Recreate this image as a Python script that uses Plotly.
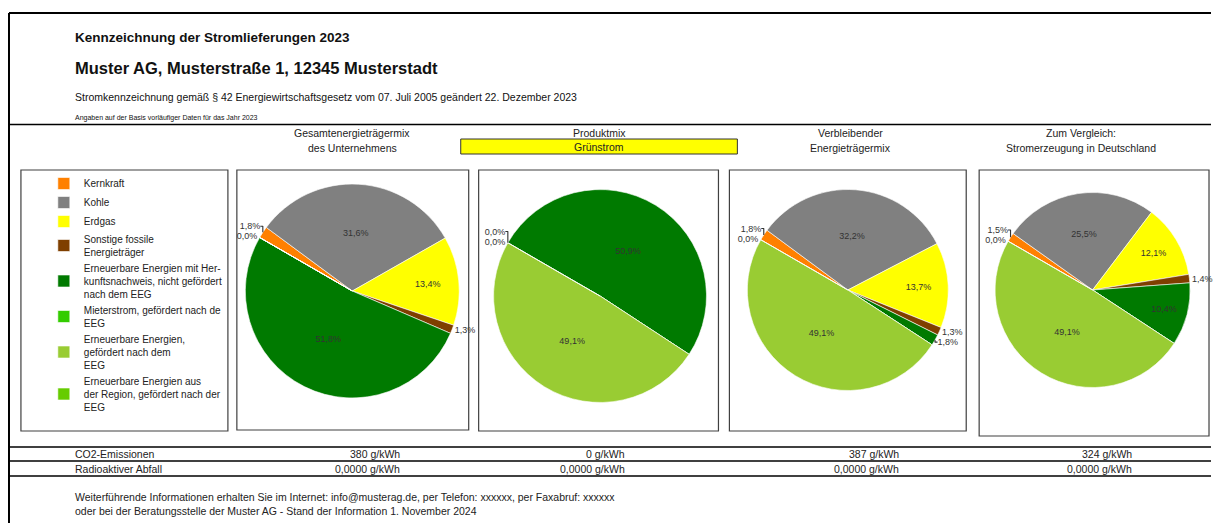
"""Stromkennzeichnung 2023 - Muster AG, nachgebaut mit Plotly."""
import plotly.graph_objects as go

# the page body has an 8px margin; the visible area ends 8px before the window edge
OFFSET = 8
W, H = 1225 - 2 * OFFSET, 523 - OFFSET

# Energieträger (Legendenreihenfolge = Tortenreihenfolge)
categories = [
    'Kernkraft',
    'Kohle',
    'Erdgas',
    'Sonstige fossile<br>Energieträger',
    'Erneuerbare Energien mit Her-<br>kunftsnachweis, nicht gefördert<br>nach dem EEG',
    'Mieterstrom, gefördert nach de<br>EEG',
    'Erneuerbare Energien,<br>gefördert nach dem<br>EEG',
    'Erneuerbare Energien aus<br>der Region, gefördert nach der<br>EEG',
]
colors = ['#FF8000', '#808080', '#FFFF00', '#7F3F00',
          '#007A00', '#33CC00', '#99CC33', '#66CC00']

# Anteile in % (None = kein Wert ausgewiesen)
mix_unternehmen = [1.8, 31.6, 13.4, 1.3, 51.8, None, 0.0, None]
mix_produkt = [0.0, None, None, None, 50.9, None, 49.1, 0.0]
mix_verbleibend = [1.8, 32.2, 13.7, 1.3, 1.8, None, 49.1, 0.0]
mix_deutschland = [1.5, 25.5, 12.1, 1.4, 10.4, None, 49.1, 0.0]

column_titles = [
    'Gesamtenergieträgermix<br>des Unternehmens',
    'Produktmix',
    'Verbleibender<br>Energieträgermix',
    'Zum Vergleich:<br>Stromerzeugung in Deutschland',
]
product_name = 'Grünstrom'

co2_values = [380, 0, 387, 324]          # g/kWh
waste_values = [0.0, 0.0, 0.0, 0.0]      # g/kWh

FONT = 'Arial, Liberation Sans, sans-serif'


def px_x(x):
    return (x - OFFSET) / W


def px_y(y):
    return 1 - (y - OFFSET) / H


fig = go.Figure()

# pie geometry in window pixels: (center x, center y, diameter), frame box
pies = [
    (mix_unternehmen, (354, 291, 215), (238, 170, 471, 430)),
    (mix_produkt, (603, 296, 214), (481, 170, 722, 431)),
    (mix_verbleibend, (852, 290, 202), (733, 170, 971, 431)),
    (mix_deutschland, (1098, 290, 196), (984, 170, 1215, 436)),
]
small_limit = 5.0

for i, (mix, (cx, cy, d), box) in enumerate(pies):
    values = [v if v is not None else 0 for v in mix]
    templates = ['' if v is None else '%{value:.1f}%' for v in mix]
    positions = ['inside' if (v or 0) >= small_limit else 'outside' for v in mix]
    fig.add_trace(go.Pie(
        labels=categories,
        values=values,
        sort=False,
        direction='clockwise',
        rotation=-60,
        marker=dict(colors=colors, line=dict(color='white', width=0.6)),
        texttemplate=templates,
        textposition=positions,
        insidetextorientation='horizontal',
        textfont=dict(family=FONT, size=9, color='#333333'),
        hovertemplate='%{label}: %{value:.1f}%<extra></extra>',
        showlegend=(i == 0),
        domain=dict(x=[px_x(cx - d / 2), px_x(cx + d / 2)],
                    y=[px_y(cy + d / 2), px_y(cy - d / 2)]),
    ))
    x0, y0, x1, y1 = box
    fig.add_shape(type='rect', xref='paper', yref='paper',
                  x0=px_x(x0), x1=px_x(x1), y0=px_y(y1), y1=px_y(y0),
                  line=dict(color='#404040', width=1.2))

# legend frame
fig.add_shape(type='rect', xref='paper', yref='paper',
              x0=px_x(21), x1=px_x(229), y0=px_y(431), y1=px_y(170),
              line=dict(color='#404040', width=1.2))

# outer form lines
line_style = dict(color='black', width=2)
fig.add_shape(type='line', xref='paper', yref='paper',
              x0=px_x(9), x1=1, y0=px_y(13), y1=px_y(13), line=line_style)
fig.add_shape(type='line', xref='paper', yref='paper',
              x0=px_x(9), x1=px_x(9), y0=px_y(13), y1=0, line=line_style)
for y in [124.5, 447, 461, 476]:
    fig.add_shape(type='line', xref='paper', yref='paper',
                  x0=px_x(9), x1=1, y0=px_y(y), y1=px_y(y),
                  line=dict(color='black', width=1.3))

# product name box
fig.add_shape(type='rect', xref='paper', yref='paper',
              x0=px_x(463), x1=px_x(741), y0=px_y(154), y1=px_y(139),
              fillcolor='#FFFF00', line=dict(color='#333333', width=1))


def text(x, y, s, size, bold=False, anchor='left', color='#111111'):
    fig.add_annotation(
        x=px_x(x), y=px_y(y), xref='paper', yref='paper',
        text=f'<b>{s}</b>' if bold else s, showarrow=False,
        xanchor=anchor, yanchor='middle',
        font=dict(family=FONT, size=size, color=color),
    )


# header
text(73, 37, 'Kennzeichnung der Stromlieferungen 2023', 13.5, bold=True)
text(73, 68, 'Muster AG, Musterstraße 1, 12345 Musterstadt', 16.5, bold=True)
text(73, 97, 'Stromkennzeichnung gemäß § 42 Energiewirtschaftsgesetz vom 07. Juli 2005 '
     'geändert 22. Dezember 2023', 10.5)
text(73, 118, 'Angaben auf der Basis vorläufiger Daten für das Jahr 2023', 7)

# column titles
col_centers = [354, 602, 855, 1086]
for c, title in zip(col_centers, column_titles):
    lines = title.split('<br>')
    text(c, 133, lines[0], 10.5, anchor='center', color='#222222')
    if len(lines) > 1:
        text(c, 148, lines[1], 10.5, anchor='center', color='#222222')
text(602, 147, product_name, 10.5, anchor='center', color='#222222')

# emission table
value_right = [404, 630, 905, 1140]
text(73, 454, 'CO2-Emissionen', 10.5, color='#222222')
text(73, 468.5, 'Radioaktiver Abfall', 10.5, color='#222222')
for xr, co2, waste in zip(value_right, co2_values, waste_values):
    text(xr, 454, f'{co2} g/kWh', 10.5, anchor='right', color='#222222')
    text(xr, 468.5, f'{waste:.4f}'.replace('.', ',') + ' g/kWh', 10.5,
         anchor='right', color='#222222')

# footer
text(73, 497, 'Weiterführende Informationen erhalten Sie im Internet: info@musterag.de, '
     'per Telefon: xxxxxx, per Faxabruf: xxxxxx', 10.5, color='#222222')
text(73, 511, 'oder bei der Beratungsstelle der Muster AG - Stand der Information '
     '1. November 2024', 10.5, color='#222222')

fig.update_layout(
    width=W, height=H,
    margin=dict(l=0, r=0, t=0, b=0),
    paper_bgcolor='white',
    plot_bgcolor='white',
    separators=',.',
    legend=dict(
        x=px_x(44), y=px_y(169), xanchor='left', yanchor='top',
        traceorder='normal',
        font=dict(family=FONT, size=10, color='#222222'),
        bgcolor='rgba(0,0,0,0)', borderwidth=0,
        itemclick=False, itemdoubleclick=False,
    ),
)

fig.write_html('out.html')
